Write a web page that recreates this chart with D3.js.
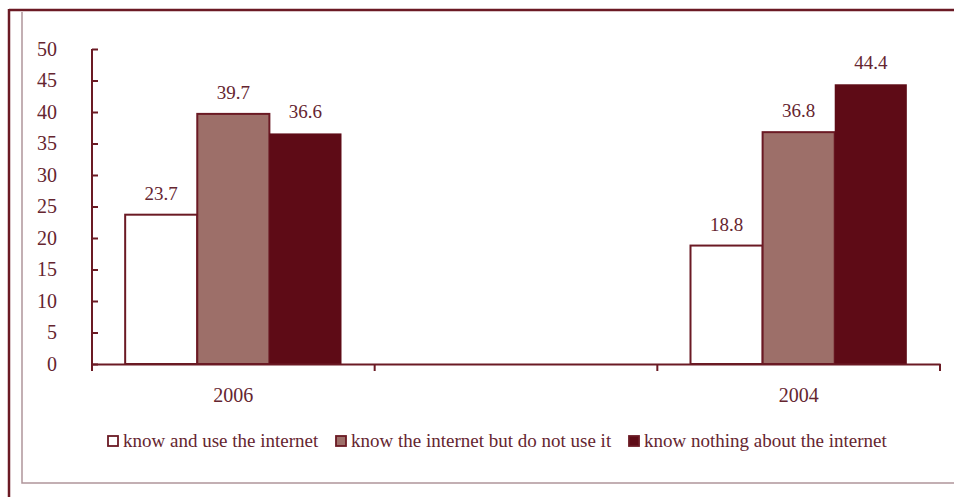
<!DOCTYPE html>
<html>
<head>
<meta charset="utf-8">
<script src="https://cdn.jsdelivr.net/npm/d3@7"></script>
<style>
  html, body { margin: 0; padding: 0; background: #fff; }
  svg { display: block; }
  svg text { font-family: "Liberation Serif", "Times New Roman", serif; }
</style>
</head>
<body>
<svg id="chart" width="954" height="497"></svg>
<script>
// Survey years on the category axis; the middle slot is left blank
const categories = ["2006", "", "2004"];
const seriesNames = [
  "know and use the internet",
  "know the internet but do not use it",
  "know nothing about the internet"
];
const knowAndUse    = [23.7, null, 18.8];
const knowNotUse    = [39.7, null, 36.8];
const knowNothing   = [36.6, null, 44.4];
const yTicks = [0, 5, 10, 15, 20, 25, 30, 35, 40, 45, 50];

const seriesValues = [knowAndUse, knowNotUse, knowNothing];
const fills = ["#ffffff", "#9d6f69", "#5e0b16"];
const ink = "#6b1a24";
const textInk = "#652530";

const svg = d3.select("#chart");

// Frame
svg.append("line").attr("x1", 9).attr("x2", 954).attr("y1", 10).attr("y2", 10)
  .attr("stroke", ink).attr("stroke-width", 2.5);
svg.append("line").attr("x1", 9).attr("x2", 9).attr("y1", 9).attr("y2", 497)
  .attr("stroke", ink).attr("stroke-width", 2.5);
svg.append("polyline").attr("points", "22,12 22,483 954,483")
  .attr("fill", "none").attr("stroke", "#b0959a").attr("stroke-width", 1.5);

const x0 = d3.scaleBand().domain(categories).range([92, 940]).padding(0);
const x1 = d3.scaleBand().domain(d3.range(seriesNames.length))
  .range([0, x0.bandwidth()]).paddingInner(0).paddingOuter(0.46);
const y = d3.scaleLinear().domain([0, 50]).range([364, 49]);

// Bars
const groups = svg.append("g").selectAll("g")
  .data(categories)
  .join("g")
  .attr("transform", d => `translate(${x0(d)},0)`);

const cells = (c, ci) => seriesValues.map((vals, si) => ({ si, v: vals[ci] })).filter(d => d.v != null);

groups.selectAll("rect")
  .data(cells)
  .join("rect")
  .attr("x", d => x1(d.si))
  .attr("width", x1.bandwidth())
  .attr("y", d => y(d.v))
  .attr("height", d => y(0) - y(d.v))
  .attr("fill", d => fills[d.si])
  .attr("stroke", ink)
  .attr("stroke-width", d => d.si === 2 ? 0 : 2);

groups.selectAll("text")
  .data(cells)
  .join("text")
  .attr("x", d => x1(d.si) + x1.bandwidth() / 2)
  .attr("y", d => y(d.v) - 15)
  .attr("text-anchor", "middle")
  .attr("font-size", 19)
  .attr("fill", textInk)
  .text(d => d.v.toFixed(1));

// Y axis
const yAxis = svg.append("g").attr("transform", "translate(92,0)")
  .call(d3.axisRight(y).tickValues(yTicks).tickSize(6).tickFormat(d3.format("d")))
  .attr("font-family", null);
yAxis.select(".domain").attr("stroke", ink).attr("stroke-width", 2).attr("d", "M0,49V371");
yAxis.selectAll(".tick line").attr("stroke", ink).attr("stroke-width", 2);
yAxis.selectAll(".tick text")
  .attr("x", -35).attr("text-anchor", "end")
  .attr("font-size", 20)
  .attr("fill", textInk);

// X axis: labels at band centres, ticks at band boundaries
const xAxis = svg.append("g").attr("transform", `translate(0,${y(0)})`)
  .call(d3.axisBottom(x0).tickSize(0).tickPadding(24))
  .attr("font-family", null);
xAxis.select(".domain").attr("stroke", ink).attr("stroke-width", 2);
xAxis.selectAll(".tick text")
  .attr("font-size", 20)
  .attr("fill", textInk);
const boundaries = d3.range(categories.length + 1).map(i => x0.range()[0] + i * x0.step());
xAxis.selectAll(".bound").data(boundaries).join("line")
  .attr("class", "bound")
  .attr("x1", d => d).attr("x2", d => d)
  .attr("y1", 0).attr("y2", 7)
  .attr("stroke", ink).attr("stroke-width", 2);

// Legend
const legendX = [108, 336, 629];
const legend = svg.append("g").selectAll("g")
  .data(seriesNames)
  .join("g")
  .attr("transform", (d, i) => `translate(${legendX[i]},436)`);
legend.append("rect")
  .attr("width", 10).attr("height", 10)
  .attr("fill", (d, i) => fills[i])
  .attr("stroke", ink).attr("stroke-width", 1.8);
legend.append("text")
  .attr("x", 15).attr("y", 11)
  .attr("font-size", 19)
  .attr("fill", textInk)
  .text(d => d);
</script>
</body>
</html>
